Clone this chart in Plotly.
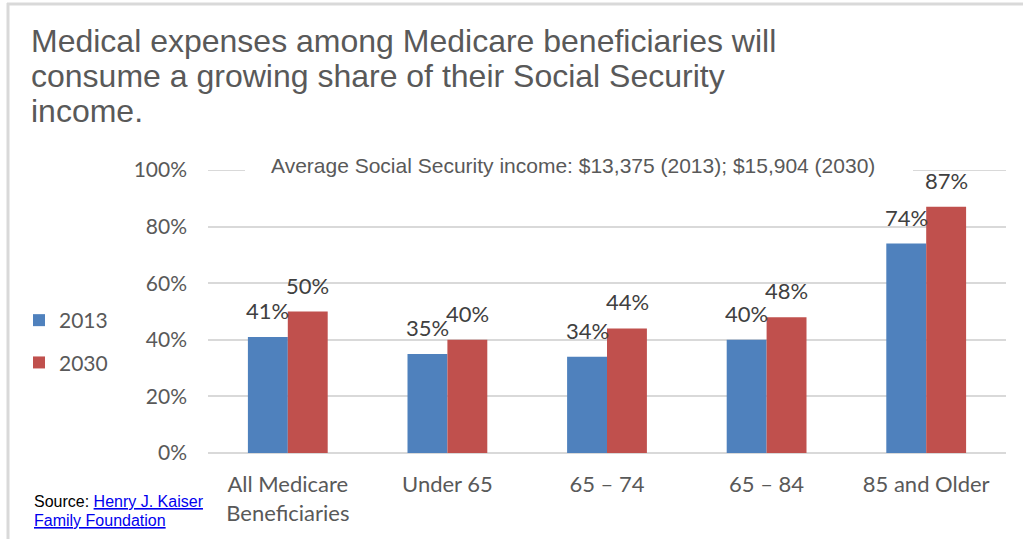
import plotly.graph_objects as go

categories = ["All Medicare<br>Beneficiaries", "Under 65", "65 – 74", "65 – 84", "85 and Older"]
values_2013 = [41, 35, 34, 40, 74]
values_2030 = [50, 40, 44, 48, 87]
series_names = ["2013", "2030"]
tick_vals = [0, 20, 40, 60, 80, 100]
tick_text = ["0%", "20%", "40%", "60%", "80%", "100%"]
title_lines = [
    "Medical expenses among Medicare beneficiaries will",
    "consume a growing share of their Social Security",
    "income.",
]
note_text = "Average Social Security income: $13,375 (2013); $15,904 (2030)"

W, H = 1023, 539
L, R, T, B = 208, 17, 170, 86
pw, ph = W - L - R, H - T - B

def px(x):
    return (x - L) / pw

def py(y):
    return (H - B - y) / ph

cal = "Lato, Open Sans, sans-serif"
ari = "Liberation Sans, Arial, sans-serif"

fig = go.Figure()
fig.add_trace(go.Bar(
    x=categories, y=values_2013, name=series_names[0],
    marker=dict(color="#4f81bd", line=dict(width=0)),
    legendgroup="a",
))
fig.add_trace(go.Bar(
    x=categories, y=values_2030, name=series_names[1],
    marker=dict(color="#c0504d", line=dict(width=0)),
    legendgroup="b",
))

annotations = []
# data labels above each bar
for vals, shift in ((values_2013, -20), (values_2030, 20)):
    for c, v in zip(categories, vals):
        annotations.append(dict(
            x=c, y=v, xref="x", yref="y", text=f"{v}%", showarrow=False,
            xanchor="center", yanchor="bottom", xshift=shift, yshift=11,
            font=dict(family=cal, size=22, color="#404040"),
        ))

# title lines
for line, yc in zip(title_lines, (41, 76, 111)):
    annotations.append(dict(
        text=line, xref="paper", yref="paper", x=px(29), y=py(yc),
        xanchor="left", yanchor="middle", showarrow=False,
        font=dict(family=ari, size=32, color="#595959"),
    ))

annotations.append(dict(
    text=note_text, xref="paper", yref="paper", x=px(573), y=py(165),
    xanchor="center", yanchor="middle", showarrow=False,
    font=dict(family=ari, size=21, color="#595959"),
))
annotations.append(dict(
    text="Source: <a href='https://www.kff.org'><span style='color:#0000ee'><u>Henry J. Kaiser</u></span></a>",
    xref="paper", yref="paper", x=px(32), y=py(502),
    xanchor="left", yanchor="middle", showarrow=False,
    font=dict(family=ari, size=16, color="#000000"),
))
annotations.append(dict(
    text="<a href='https://www.kff.org'><span style='color:#0000ee'><u>Family Foundation</u></span></a>",
    xref="paper", yref="paper", x=px(32), y=py(520),
    xanchor="left", yanchor="middle", showarrow=False,
    font=dict(family=ari, size=16, color="#000000"),
))

fig.update_layout(
    width=W, height=H,
    margin=dict(l=L, r=R, t=T, b=B),
    paper_bgcolor="white", plot_bgcolor="white",
    barmode="group", bargap=0.5, bargroupgap=0,
    showlegend=True,
    legend=dict(x=px(19), y=py(300), xanchor="left", yanchor="top",
                font=dict(family=cal, size=21, color="#595959"),
                tracegroupgap=12, bgcolor="rgba(0,0,0,0)"),
    xaxis=dict(
        tickfont=dict(family=cal, size=22, color="#595959"),
        showline=False, ticks="", showgrid=False, ticklabelstandoff=16,
    ),
    yaxis=dict(
        range=[0, 100], tickvals=tick_vals, ticktext=tick_text,
        tickfont=dict(family=cal, size=21, color="#595959"),
        showgrid=True, gridcolor="#d9d9d9", gridwidth=2,
        zeroline=True, zerolinecolor="#d9d9d9", zerolinewidth=2,
        showline=False, ticks="", ticklabelstandoff=20,
    ),
    annotations=annotations,
    shapes=[
        # top (100%) gridline, explicitly drawn
        dict(type="line", xref="paper", yref="y", x0=0, x1=1, y0=tick_vals[-1], y1=tick_vals[-1],
             line=dict(color="#d9d9d9", width=2), layer="above"),
        # white box behind the note, interrupting the 100% gridline
        dict(type="rect", xref="paper", yref="paper", x0=px(245), x1=px(913), y0=py(178), y1=py(152),
             line=dict(width=0), fillcolor="white", layer="above"),
        dict(type="line", xref="paper", yref="paper", x0=px(7), x1=px(1023), y0=py(4), y1=py(4),
             line=dict(color="#d9d9d9", width=3), layer="above"),
        dict(type="line", xref="paper", yref="paper", x0=px(8), x1=px(8), y0=py(3), y1=py(539),
             line=dict(color="#d9d9d9", width=3), layer="above"),
    ],
)

fig.write_html("out.html", config={"displayModeBar": False},
               post_script="document.body.style.margin='0';document.body.style.overflow='hidden';")
